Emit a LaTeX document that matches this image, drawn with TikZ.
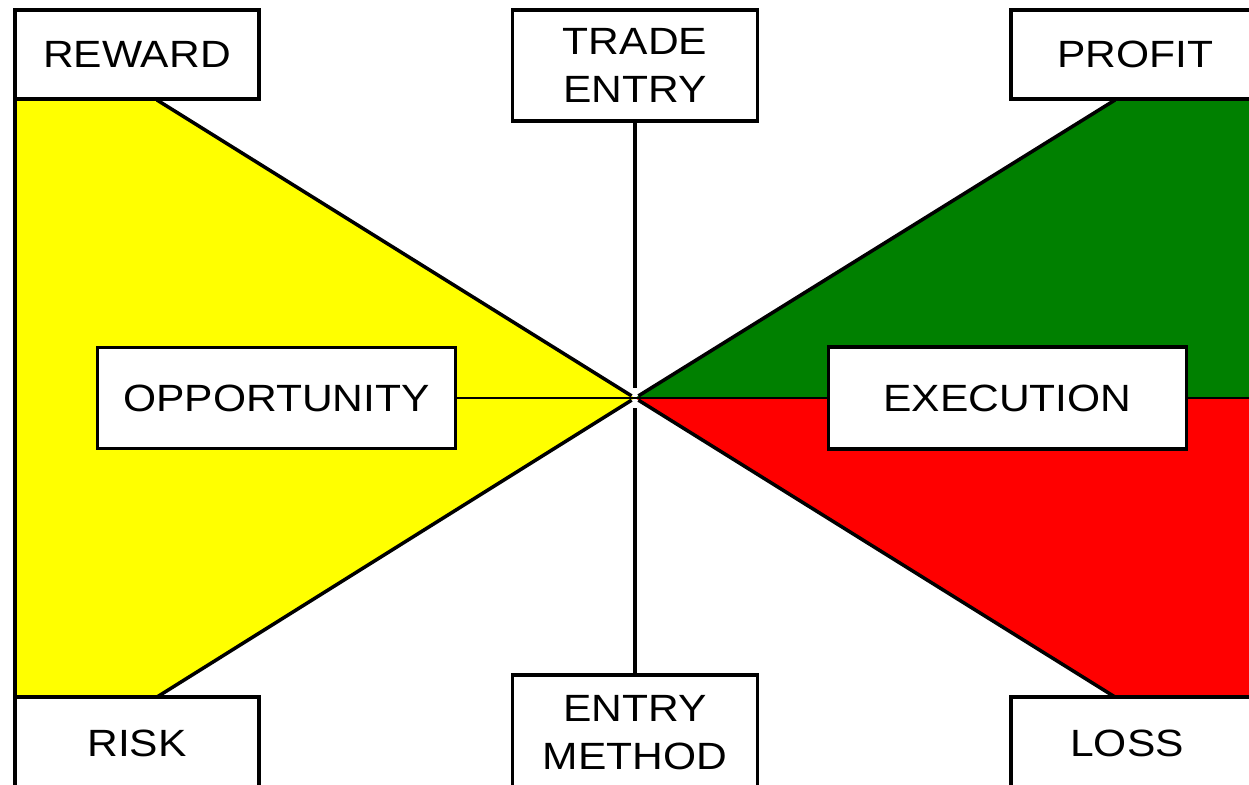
\documentclass[tikz,border=0pt]{standalone}
\usepackage{fontspec}
\setmainfont{Liberation Sans}[FakeStretch=1.12]
\definecolor{rewardyellow}{RGB}{255,255,0}
\definecolor{profitgreen}{RGB}{0,128,0}
\definecolor{lossred}{RGB}{255,0,0}
\begin{document}
\begin{tikzpicture}[x=0.01cm,y=-0.01cm,line join=miter,
	font=\fontsize{10.8}{13.6}\selectfont,
	lbl/.style={draw,line width=0.9pt,fill=white,inner sep=0pt,align=center},
	edge/.style={line width=1pt},
	thin/.style={line width=0.35pt}]
	\useasboundingbox (0,0) rectangle (1249,784);
	\clip (0,0) rectangle (1249,784);
	\coordinate (c) at (635,398);
	\fill[rewardyellow] (15,100)--(157,100)--(c)--(157,697)--(15,697)--cycle;
	\fill[profitgreen] (c)--(1115,100)--(1260,100)--(1260,398)--cycle;
	\fill[lossred] (c)--(1260,398)--(1260,697)--(1115,697)--cycle;
	\draw[edge] (15,100)--(15,697);
	\draw[edge,shorten <=0.04cm] (c)--(157,100);
	\draw[edge,shorten <=0.04cm] (c)--(157,697);
	\draw[edge,shorten <=0.04cm] (c)--(1115,100);
	\draw[edge,shorten <=0.04cm] (c)--(1115,697);
	\draw[thin] (c)--(1260,398);
	\node[lbl,minimum width=2.44cm,minimum height=0.89cm] (reward) at (137,54.5) {REWARD};
	\node[lbl,minimum width=2.48cm,minimum height=0.89cm] (profit) at (1135,54.5) {PROFIT};
	\node[lbl,minimum width=2.45cm,minimum height=1.11cm] (trade) at (635,65.5) {TRADE\\ENTRY};
	\node[lbl,minimum width=2.45cm,minimum height=1.16cm] (method) at (635,733) {ENTRY\\METHOD};
	\node[lbl,minimum width=2.44cm,minimum height=0.92cm] (risk) at (137,743) {RISK};
	\node[lbl,minimum width=2.48cm,minimum height=0.92cm] (loss) at (1135,743) {\hspace*{-0.16cm}LOSS};
	\node[lbl,minimum width=3.57cm,minimum height=1.01cm] (opportunity) at (276.5,398) {OPPORTUNITY};
	\node[lbl,minimum width=3.57cm,minimum height=1.02cm] (execution) at (1007.5,398) {EXECUTION};
	\draw[thin] (opportunity.east)--(c);
	\draw[edge,shorten >=0.1cm] (trade)--(c);
	\draw[edge,shorten <=0.1cm] (c)--(method);
\end{tikzpicture}
\end{document}
